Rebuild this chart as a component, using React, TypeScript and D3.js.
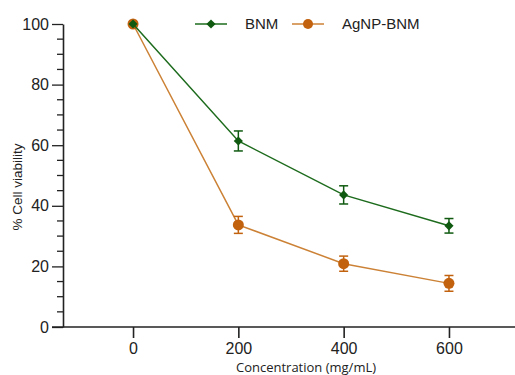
import React, { useEffect, useRef } from 'react'
import { select, scaleLinear, axisLeft, axisBottom, line, symbol, symbolSquare, range } from 'd3'

const concentrations = [0, 200, 400, 600]
const bnmValues = [100, 61.4, 43.6, 33.4]
const bnmErrors = [0.5, 3.3, 3.0, 2.4]
const agnpValues = [100, 33.7, 20.9, 14.4]
const agnpErrors = [0.5, 2.8, 2.5, 2.6]
const xTicks = [0, 200, 400, 600]
const yTicks = [0, 20, 40, 60, 80, 100]

const series = [
  { name: 'BNM', values: bnmValues, errors: bnmErrors, line: '#1d6b1d', mark: '#0f5a10', shape: 'diamond' },
  { name: 'AgNP-BNM', values: agnpValues, errors: agnpErrors, line: '#cc8236', mark: '#c2620f', shape: 'circle' }
]

const App = () => {
  const svgRef = useRef()

  useEffect(() => {
    const svg = select(svgRef.current)
    svg.selectAll('*').remove()

    const xScale = scaleLinear().domain([-133, 733]).range([63, 519])
    const yScale = scaleLinear().domain([0, 100]).range([327, 24])

    // y axis, majors with labels + minor ticks every 5
    const yAxis = axisLeft(yScale).tickValues(yTicks).tickSize(11).tickPadding(3).tickSizeOuter(0)
    const yg = svg.append('g').attr('transform', 'translate(63,0)').call(yAxis)
    yg.select('.domain').attr('stroke', '#222').attr('stroke-width', 1.6)
    yg.selectAll('.tick line').attr('stroke', '#222').attr('stroke-width', 1.3)
    yg.selectAll('.tick text')
      .attr('font-family', 'Liberation Sans, Arial, sans-serif')
      .attr('font-size', 16)
      .attr('fill', '#222')

    const minor = range(0, 101, 5).filter(v => v % 20 !== 0)
    svg.append('g')
      .selectAll('line')
      .data(minor)
      .join('line')
      .attr('x1', 57)
      .attr('x2', 63)
      .attr('y1', d => yScale(d))
      .attr('y2', d => yScale(d))
      .attr('stroke', '#222')
      .attr('stroke-width', 1.3)

    // x axis
    const xAxis = axisBottom(xScale).tickValues(xTicks).tickSize(11).tickPadding(5).tickSizeOuter(0)
    const xg = svg.append('g').attr('transform', 'translate(0,327)').call(xAxis)
    xg.select('.domain').remove()
    xg.selectAll('.tick line').attr('stroke', '#222').attr('stroke-width', 1.6)
    xg.selectAll('.tick text')
      .attr('font-family', 'Liberation Sans, Arial, sans-serif')
      .attr('font-size', 16)
      .attr('fill', '#222')
    svg.append('line')
      .attr('x1', 52).attr('x2', 515)
      .attr('y1', 327).attr('y2', 327)
      .attr('stroke', '#222').attr('stroke-width', 1.6)

    // axis titles
    svg.append('text')
      .attr('transform', 'translate(22,187) rotate(-90)')
      .attr('text-anchor', 'middle')
      .attr('font-family', 'Liberation Sans, Arial, sans-serif')
      .attr('font-size', 13.5)
      .attr('fill', '#222')
      .text('% Cell viability')
    svg.append('text')
      .attr('x', 306)
      .attr('y', 372)
      .attr('text-anchor', 'middle')
      .attr('font-family', 'Open Sans, sans-serif')
      .attr('font-size', 13)
      .attr('fill', '#222')
      .text('Concentration (mg/mL)')

    const lineGen = line()
      .x(d => xScale(d[0]))
      .y(d => yScale(d[1]))

    const diamond = symbol().type(symbolSquare).size(42)

    // draw AgNP first so BNM sits on top at 0
    series.slice().reverse().forEach(s => {
      const pts = concentrations.map((c, i) => [c, s.values[i], s.errors[i]])
      svg.append('path')
        .datum(pts)
        .attr('d', lineGen)
        .attr('fill', 'none')
        .attr('stroke', s.line)
        .attr('stroke-width', 1.5)

      // error bars
      const eb = svg.append('g').attr('stroke', s.mark).attr('stroke-width', 1.5)
      pts.filter(p => p[2] > 1).forEach(p => {
        const x = xScale(p[0])
        const y1 = yScale(p[1] - p[2])
        const y2 = yScale(p[1] + p[2])
        eb.append('line').attr('x1', x).attr('x2', x).attr('y1', y1).attr('y2', y2)
        eb.append('line').attr('x1', x - 4.5).attr('x2', x + 4.5).attr('y1', y1).attr('y2', y1)
        eb.append('line').attr('x1', x - 4.5).attr('x2', x + 4.5).attr('y1', y2).attr('y2', y2)
      })

      const mg = svg.append('g')
      if (s.shape === 'diamond') {
        mg.selectAll('path')
          .data(pts)
          .join('path')
          .attr('d', diamond)
          .attr('transform', p => `translate(${xScale(p[0])},${yScale(p[1])}) rotate(45)`)
          .attr('fill', s.mark)
      } else {
        mg.selectAll('circle')
          .data(pts)
          .join('circle')
          .attr('cx', p => xScale(p[0]))
          .attr('cy', p => yScale(p[1]))
          .attr('r', 5.5)
          .attr('fill', s.mark)
      }
    })

    // legend
    const legendItems = [
      { x: 195, textX: 245 },
      { x: 292, textX: 342 }
    ]
    series.forEach((s, i) => {
      const li = legendItems[i]
      const g = svg.append('g').attr('transform', `translate(${li.x},24)`)
      g.append('line').attr('x1', 0).attr('x2', 32).attr('y1', 0).attr('y2', 0)
        .attr('stroke', s.line).attr('stroke-width', 1.5)
      if (s.shape === 'diamond') {
        g.append('path').attr('d', diamond).attr('transform', 'translate(16,0) rotate(45)').attr('fill', s.mark)
      } else {
        g.append('circle').attr('cx', 16).attr('cy', 0).attr('r', 5).attr('fill', s.mark)
      }
      svg.append('text')
        .attr('x', li.textX)
        .attr('y', 24)
        .attr('dy', '0.35em')
        .attr('font-family', 'Liberation Sans, Arial, sans-serif')
        .attr('font-size', 15)
        .attr('fill', '#222')
        .text(s.name)
    })
  }, [])

  return (
    <svg
      ref={svgRef}
      width={515}
      height={375}
      style={{ position: 'absolute', left: 0, top: 0, background: '#fff' }}
    />
  )
}

export default App
